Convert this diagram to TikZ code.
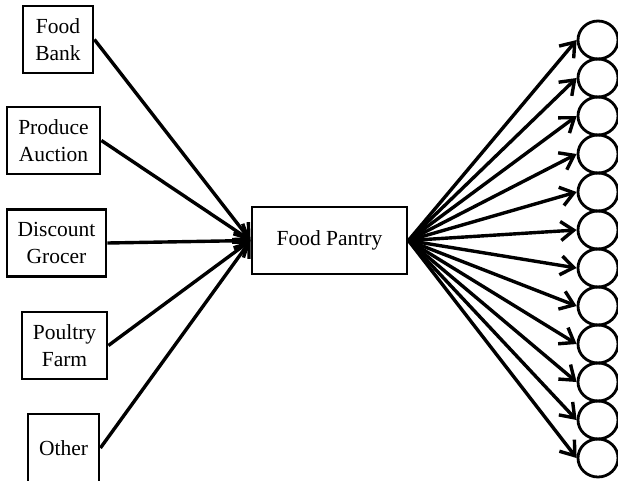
\documentclass[tikz,border=0pt]{standalone}
\usepackage{fontspec}
\setmainfont{Liberation Serif}
\usetikzlibrary{arrows.meta,shapes.geometric}
\begin{document}
\begin{tikzpicture}[x=1pt,y=-1pt,
  src/.style={draw,line width=2.8pt,inner sep=0pt,minimum height=67pt,align=center,
    font=\fontsize{21.5}{26.7}\selectfont},
  sink/.style={draw,ellipse,line width=2.8pt,minimum width=40pt,minimum height=38pt,inner sep=0pt},
  flow/.style={line width=3.4pt,-{Straight Barb[length=13pt,width=19pt]}}]
\useasboundingbox (0,0) rectangle (618,480);
\node[src,minimum width=70pt] (fb) at (58,39.5) {Food\\Bank};
\node[src,minimum width=93pt] (pa) at (53.5,140.5) {Produce\\Auction};
\node[src,minimum width=99pt] (dg) at (56.5,243) {Discount\\Grocer};
\node[src,minimum width=85pt] (pf) at (64.5,345.5) {Poultry\\Farm};
\node[src,minimum width=71pt,minimum height=68pt] (ot) at (63.5,448) {Other};
\node[src,minimum width=155pt] (fp) at (329.5,240.5) {Food Pantry};
\foreach \s in {fb,pa,dg,pf,ot} \draw[flow] (\s.east) -- (fp.west);
\foreach \i in {0,...,11} {
  \node[sink] (c\i) at (598,40+38*\i) {};
  \draw[flow] (fp.east) -- (c\i.west);
}
\end{tikzpicture}
\end{document}
